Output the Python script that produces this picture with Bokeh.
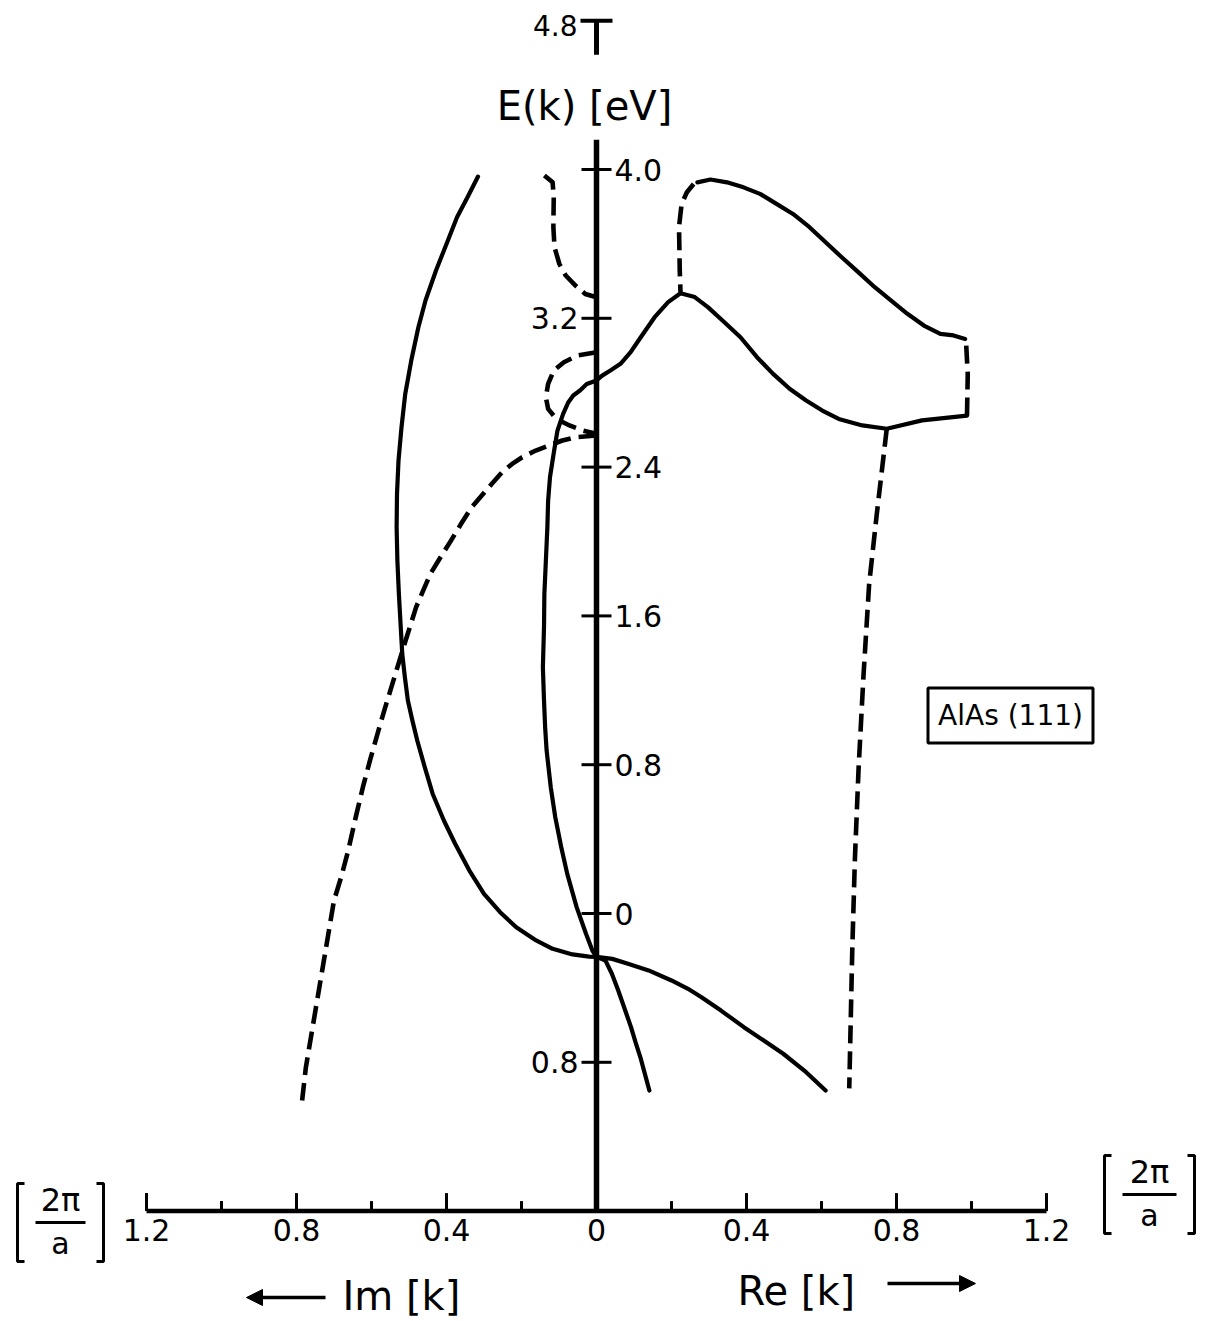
from bokeh.plotting import figure
from bokeh.models import Range1d, Arrow, NormalHead
from bokeh.embed import file_html
from bokeh.resources import INLINE
from bokeh.core.properties import value

# ---------------- data: E(k) [eV] versus Re k / Im k [2pi/a] ----------------
# Im-side branches (plotted to the left of k = 0)
im_outer_k = [0.316, 0.344, 0.372, 0.400, 0.428, 0.456, 0.475, 0.494, 0.510, 0.520, 0.528, 0.532,
              0.533, 0.531, 0.527, 0.522, 0.518, 0.511, 0.503, 0.491, 0.478, 0.458, 0.437, 0.407,
              0.377, 0.339, 0.300, 0.257, 0.214, 0.161, 0.117, 0.064, 0.020, 0.0]
im_outer_E = [3.962, 3.851, 3.743, 3.600, 3.457, 3.296, 3.152, 2.973, 2.794, 2.614, 2.435, 2.256,
              2.077, 1.898, 1.719, 1.539, 1.396, 1.270, 1.145, 1.038, 0.930, 0.787, 0.644, 0.500,
              0.375, 0.231, 0.106, 0.007, -0.074, -0.145, -0.190, -0.220, -0.232, -0.233]

im_inner_k = [0.0, 0.026, 0.044, 0.062, 0.075, 0.089, 0.104, 0.113, 0.124, 0.129, 0.131, 0.135,
              0.139, 0.140, 0.143, 0.140, 0.137, 0.133, 0.122, 0.110, 0.094, 0.078, 0.053, 0.028,
              0.011, 0.0]
im_inner_E = [2.866, 2.847, 2.812, 2.785, 2.749, 2.686, 2.597, 2.489, 2.346, 2.220, 2.077, 1.898,
              1.719, 1.539, 1.324, 1.145, 1.002, 0.876, 0.679, 0.518, 0.356, 0.213, 0.034, -0.109,
              -0.199, -0.233]

im_top_dash_k = [0.139, 0.117, 0.114, 0.115, 0.112, 0.099, 0.082, 0.056, 0.030, 0.0]
im_top_dash_E = [3.968, 3.931, 3.851, 3.690, 3.582, 3.492, 3.430, 3.376, 3.331, 3.313]

im_loop_dash_k = [0.0, 0.051, 0.087, 0.114, 0.129, 0.135, 0.129, 0.107, 0.072, 0.037, 0.0]
im_loop_dash_E = [3.017, 3.000, 2.964, 2.919, 2.847, 2.776, 2.713, 2.659, 2.624, 2.597, 2.579]

im_long_dash_k = [0.0, 0.055, 0.091, 0.127, 0.162, 0.198, 0.225, 0.252, 0.279, 0.306, 0.333, 0.361,
                  0.388, 0.416, 0.443, 0.462, 0.481, 0.495, 0.509, 0.547, 0.566, 0.584, 0.604, 0.623,
                  0.642, 0.662, 0.681, 0.700, 0.715, 0.730, 0.745, 0.760, 0.775, 0.785]
im_long_dash_E = [2.570, 2.561, 2.543, 2.516, 2.489, 2.453, 2.417, 2.372, 2.310, 2.247, 2.184, 2.095,
                  2.005, 1.915, 1.826, 1.737, 1.647, 1.557, 1.468, 1.217, 1.091, 0.966, 0.823, 0.679,
                  0.518, 0.339, 0.195, 0.070, -0.109, -0.289, -0.468, -0.647, -0.827, -1.005]

# Re-side branches (plotted to the right of k = 0)
re_lower_outer_k = [0.0, 0.042, 0.086, 0.139, 0.200, 0.244, 0.280, 0.332, 0.393, 0.446, 0.498,
                    0.559, 0.611]
re_lower_outer_E = [-0.233, -0.244, -0.271, -0.306, -0.360, -0.405, -0.450, -0.522, -0.611, -0.683,
                    -0.754, -0.853, -0.952]

re_lower_inner_k = [0.0, 0.024, 0.041, 0.058, 0.075, 0.092, 0.104, 0.117, 0.129, 0.141]
re_lower_inner_E = [-0.233, -0.253, -0.324, -0.414, -0.512, -0.611, -0.692, -0.773, -0.862, -0.952]

re_upper_k = [0.0, 0.015, 0.037, 0.064, 0.091, 0.118, 0.155, 0.191, 0.224, 0.262, 0.297, 0.341,
              0.384, 0.428, 0.471, 0.515, 0.559, 0.602, 0.646, 0.709, 0.774, 0.868, 0.988]
re_upper_E = [2.866, 2.892, 2.919, 2.955, 3.018, 3.098, 3.206, 3.287, 3.335, 3.314, 3.260, 3.179,
              3.098, 2.991, 2.901, 2.821, 2.758, 2.704, 2.659, 2.624, 2.606, 2.651, 2.677]

re_top_k = [0.983, 0.952, 0.917, 0.873, 0.829, 0.785, 0.742, 0.698, 0.654, 0.611, 0.568, 0.524,
            0.480, 0.436, 0.392, 0.348, 0.304, 0.269]
re_top_E = [3.089, 3.108, 3.116, 3.161, 3.224, 3.296, 3.367, 3.448, 3.528, 3.609, 3.690, 3.761,
            3.815, 3.869, 3.904, 3.931, 3.946, 3.931]

re_step_dash_k = [0.988, 0.990, 0.985]
re_step_dash_E = [2.677, 2.900, 3.089]

re_peak_dash_k = [0.259, 0.241, 0.227, 0.220, 0.221, 0.222, 0.224]
re_peak_dash_E = [3.922, 3.878, 3.815, 3.690, 3.582, 3.457, 3.340]

re_long_dash_k = [0.774, 0.747, 0.727, 0.712, 0.699, 0.689, 0.682, 0.674]
re_long_dash_E = [2.606, 2.14, 1.77, 1.28, 0.785, 0.29, -0.20, -0.94]

# axes / ticks
E_ticks = [4.0, 3.2, 2.4, 1.6, 0.8, 0.0, -0.8]
E_tick_labels = ["4.0", "3.2", "2.4", "1.6", "0.8", "0", "0.8"]
E_label_side = ["right", "left", "right", "right", "right", "right", "left"]
E_axis_limits = [-1.6, 4.16]
E_top_mark = 4.8

k_major = [-1.2, -0.8, -0.4, 0.4, 0.8, 1.2]
k_minor = [-1.0, -0.6, -0.2, 0.2, 0.6, 1.0]
k_tick_vals = [-1.2, -0.8, -0.4, 0.0, 0.4, 0.8, 1.2]
k_tick_labels = ["1.2", "0.8", "0.4", "0", "0.4", "0.8", "1.2"]
k_axis_limit = 1.2

# ---------------- layout (pixel scale of the page) ----------------
W, H = 1212, 1320
X0, SX = 596.0, 375.0   # page x of k=0, px per unit k
Y0, SY = 913.0, 186.0   # page y of E=0, px per eV


def kx(X):
    return (X - X0) / SX


def ey(Y):
    return (Y0 - Y) / SY


p = figure(width=W, height=H, x_range=Range1d(kx(0), kx(W)), y_range=Range1d(ey(H), ey(0)),
           output_backend="svg", toolbar_location=None, min_border=0,
           x_axis_type=None, y_axis_type=None)
p.grid.visible = False
p.outline_line_color = None
p.background_fill_color = "white"
p.border_fill_color = "white"

FONT = value("DejaVu Sans")
DASH = "18 8"

neg = lambda a: [-v for v in a]
solid = dict(line_color="black", line_width=4.2, line_join="round", line_cap="round")
dashed = dict(line_color="black", line_width=4.6, line_dash=DASH, line_join="round")

p.line(neg(im_outer_k), im_outer_E, **solid)
p.line(neg(im_inner_k), im_inner_E, **solid)
p.line(re_lower_outer_k, re_lower_outer_E, **solid)
p.line(re_lower_inner_k, re_lower_inner_E, **solid)
p.line(re_upper_k, re_upper_E, **solid)
p.line(re_top_k, re_top_E, **solid)

p.line(neg(im_top_dash_k), im_top_dash_E, **dashed)
p.line(neg(im_loop_dash_k), im_loop_dash_E, **dashed)
p.line(neg(im_long_dash_k), im_long_dash_E, **dashed)
p.line(re_step_dash_k, re_step_dash_E, **dashed)
p.line(re_peak_dash_k, re_peak_dash_E, **dashed)
p.line(re_long_dash_k, re_long_dash_E, **dashed)

# vertical E axis
p.line([0, 0], E_axis_limits, line_color="black", line_width=5.5)
tw = 15 / SX
p.segment(x0=[-tw] * len(E_ticks), y0=E_ticks, x1=[tw] * len(E_ticks), y1=E_ticks,
          line_color="black", line_width=3)
for e, lab, side in zip(E_ticks, E_tick_labels, E_label_side):
    if side == "right":
        p.text(x=[18 / SX], y=[e], text=[lab], text_align="left", text_baseline="middle",
               text_font=FONT, text_font_size=value("30px"), text_color="black")
    else:
        p.text(x=[-18 / SX], y=[e], text=[lab], text_align="right", text_baseline="middle",
               text_font=FONT, text_font_size=value("30px"), text_color="black")

# "T" mark at 4.8 eV
p.segment(x0=[-16 / SX], y0=[E_top_mark], x1=[16 / SX], y1=[E_top_mark], line_color="black", line_width=4)
p.segment(x0=[0], y0=[E_top_mark], x1=[0], y1=[E_top_mark - 34 / SY], line_color="black", line_width=5)
p.text(x=[-19 / SX], y=[E_top_mark - 5 / SY], text=["4.8"], text_align="right", text_baseline="middle",
       text_font=FONT, text_font_size=value("28px"), text_color="black")
p.text(x=[kx(584)], y=[ey(105)], text=["E(k) [eV]"], text_align="center", text_baseline="middle",
       text_font=FONT, text_font_size=value("40px"), text_color="black")

# horizontal k axis
Eb = E_axis_limits[0]
p.line([-k_axis_limit, k_axis_limit], [Eb, Eb], line_color="black", line_width=4.5)
p.segment(x0=k_major, y0=[Eb] * len(k_major), x1=k_major, y1=[Eb + 18 / SY] * len(k_major),
          line_color="black", line_width=3)
p.segment(x0=k_minor, y0=[Eb] * len(k_minor), x1=k_minor, y1=[Eb + 10 / SY] * len(k_minor),
          line_color="black", line_width=3)
p.text(x=k_tick_vals, y=[Eb - 8 / SY] * len(k_tick_vals), text=k_tick_labels, text_align="center",
       text_baseline="top", text_font=FONT, text_font_size=value("30px"), text_color="black")


# [2pi/a] unit brackets
def unit_bracket(xl, xr, yc):
    top, bot = yc - 39, yc + 39
    p.multi_line(xs=[[kx(xl + 7), kx(xl), kx(xl), kx(xl + 7)], [kx(xr - 7), kx(xr), kx(xr), kx(xr - 7)],
                     [kx(xl + 18), kx(xr - 18)]],
                 ys=[[ey(top), ey(top), ey(bot), ey(bot)], [ey(top), ey(top), ey(bot), ey(bot)],
                     [ey(yc), ey(yc)]],
                 line_color="black", line_width=3)
    xc = (xl + xr) / 2
    p.text(x=[kx(xc)], y=[ey(yc - 4)], text=["2π"], text_align="center", text_baseline="bottom",
           text_font=FONT, text_font_size=value("32px"), text_color="black")
    p.text(x=[kx(xc)], y=[ey(yc + 3)], text=["a"], text_align="center", text_baseline="top",
           text_font=FONT, text_font_size=value("30px"), text_color="black")


unit_bracket(17, 103, 1222)
unit_bracket(1104, 1194, 1194)

# axis titles with arrows
p.text(x=[kx(342)], y=[ey(1295)], text=["Im [k]"], text_align="left", text_baseline="middle",
       text_font=FONT, text_font_size=value("40px"), text_color="black")
p.add_layout(Arrow(end=NormalHead(size=16, fill_color="black", line_color="black"),
                   x_start=kx(325), y_start=ey(1297), x_end=kx(246), y_end=ey(1297),
                   line_color="black", line_width=3.5))
p.text(x=[kx(737)], y=[ey(1290)], text=["Re [k]"], text_align="left", text_baseline="middle",
       text_font=FONT, text_font_size=value("40px"), text_color="black")
p.add_layout(Arrow(end=NormalHead(size=16, fill_color="black", line_color="black"),
                   x_start=kx(887), y_start=ey(1283), x_end=kx(975), y_end=ey(1283),
                   line_color="black", line_width=3.5))

# sample label
p.rect(x=[kx(1010)], y=[ey(715)], width=165 / SX, height=55 / SY, fill_color=None,
       line_color="black", line_width=3)
p.text(x=[kx(1010)], y=[ey(715)], text=["AlAs (111)"], text_align="center", text_baseline="middle",
       text_font=FONT, text_font_size=value("28px"), text_color="black")

open("out.html", "w").write(file_html(p, INLINE))
